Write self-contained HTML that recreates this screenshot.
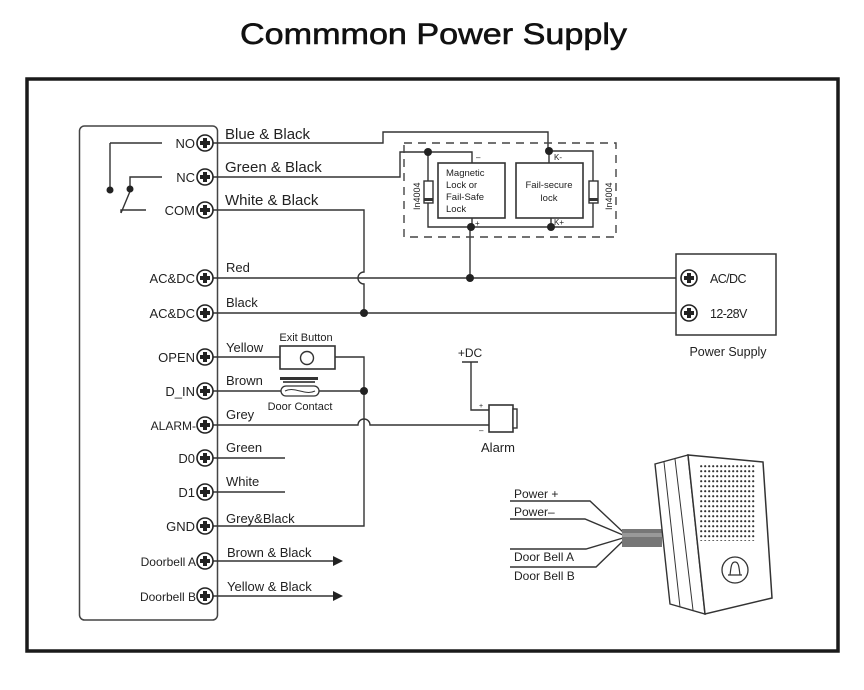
<!DOCTYPE html>
<html><head><meta charset="utf-8"><style>
html,body{margin:0;padding:0;background:#fff;}
svg{display:block;}
text{font-family:"Liberation Sans",Arial,sans-serif;fill:#222;}
</style></head><body>
<svg width="864" height="690" viewBox="0 0 864 690" xmlns="http://www.w3.org/2000/svg">
<defs>
<g id="term"><circle r="8" fill="#fff" stroke="#222" stroke-width="1.6"/><path d="M-5,0H5M0,-5V5" stroke="#222" stroke-width="4"/></g>
</defs>
<text x="240" y="44" font-size="30" textLength="387" lengthAdjust="spacingAndGlyphs" style="fill:#111;stroke:#111;stroke-width:0.6">Commmon Power Supply</text>
<rect x="27" y="79" width="811" height="572" fill="none" stroke="#1a1a1a" stroke-width="3.5"/>
<rect x="79.5" y="126" width="138" height="494" rx="5" fill="none" stroke="#444" stroke-width="1.5"/>

<g stroke="#333" stroke-width="1.4" fill="none">
<path d="M110,143H162M110,143V190M130,189V177H162M121,213L131,189M121,213V210H146"/>
<path d="M213,143H383V132H548V151"/>
<path d="M213,177H400V152H472V163"/>
<path d="M213,210H364V272A6,6 0 0 0 364,284V313"/>
<path d="M213,278H681M213,313H681"/>
<path d="M470,278V227"/>
<path d="M428,152V227H593V151H549V163"/>
<path d="M472,218V227M551,218V227"/>
<path d="M213,357H280M334,357H364V526H213"/>
<path d="M213,391H364"/>
<path d="M213,425H358A6,6 0 0 1 370,425H489"/>
<path d="M213,458H285M213,492H285"/>
<path d="M213,561H335M213,596H335"/>
<path d="M462,362H478M471,362V410H489"/>
<path d="M510,501H590L623,532M510,519H585L623,535M510,549H586L623,538M510,567H596L623,541"/>
</g>
<rect x="404" y="143" width="212" height="94" fill="none" stroke="#444" stroke-width="1.4" stroke-dasharray="8,6"/>
<rect x="438" y="163" width="67" height="55" fill="#fff" stroke="#333" stroke-width="1.6"/>
<rect x="516" y="163" width="67" height="55" fill="#fff" stroke="#333" stroke-width="1.6"/>
<text x="446" y="176" font-size="9.5">Magnetic</text>
<text x="446" y="188" font-size="9.5">Lock or</text>
<text x="446" y="200" font-size="9.5">Fail-Safe</text>
<text x="446" y="212" font-size="9.5">Lock</text>
<text x="549" y="188" font-size="9.5" text-anchor="middle">Fail-secure</text>
<text x="549" y="201" font-size="9.5" text-anchor="middle">lock</text>
<text x="476" y="160" font-size="8">–</text>
<text x="475" y="226" font-size="8">+</text>
<text x="554" y="160" font-size="8">K-</text>
<text x="554" y="225" font-size="8">K+</text>
<rect x="424" y="181" width="9" height="22" fill="#fff" stroke="#333" stroke-width="1.4"/>
<rect x="424" y="198" width="9" height="3" fill="#333"/>
<rect x="589" y="181" width="9" height="22" fill="#fff" stroke="#333" stroke-width="1.4"/>
<rect x="589" y="198" width="9" height="3" fill="#333"/>
<text transform="translate(420,210) rotate(-90)" font-size="9">In4004</text>
<text transform="translate(612,210) rotate(-90)" font-size="9">In4004</text>
<g fill="#222">
<circle cx="110" cy="190" r="3.5"/><circle cx="130" cy="189" r="3.5"/>
<circle cx="428" cy="152" r="4"/><circle cx="549" cy="151" r="4"/>
<circle cx="471" cy="227" r="4"/><circle cx="551" cy="227" r="4"/>
<circle cx="470" cy="278" r="4"/><circle cx="364" cy="313" r="4"/>
<circle cx="364" cy="391" r="4"/>
<path d="M333,556L343,561L333,566Z"/><path d="M333,591L343,596L333,601Z"/>
</g>
<use href="#term" x="205" y="143"/><use href="#term" x="205" y="177"/><use href="#term" x="205" y="210"/>
<use href="#term" x="205" y="278"/><use href="#term" x="205" y="313"/><use href="#term" x="205" y="357"/>
<use href="#term" x="205" y="391"/><use href="#term" x="205" y="425"/><use href="#term" x="205" y="458"/>
<use href="#term" x="205" y="492"/><use href="#term" x="205" y="526"/><use href="#term" x="205" y="561"/>
<use href="#term" x="205" y="596"/>
<g font-size="13" text-anchor="end">
<text x="195" y="148">NO</text><text x="195" y="182">NC</text><text x="195" y="215">COM</text>
<text x="195" y="283">AC&amp;DC</text><text x="195" y="318">AC&amp;DC</text><text x="195" y="362">OPEN</text>
<text x="195" y="396">D_IN</text><text x="196" y="430" font-size="12">ALARM-</text><text x="195" y="463">D0</text>
<text x="195" y="497">D1</text><text x="195" y="531">GND</text>
<text x="196" y="566" font-size="12">Doorbell A</text><text x="196" y="601" font-size="12">Doorbell B</text>
</g>
<g font-size="15">
<text x="225" y="139">Blue &amp; Black</text><text x="225" y="172">Green &amp; Black</text><text x="225" y="205">White &amp; Black</text>
</g>
<g font-size="13">
<text x="226" y="272">Red</text><text x="226" y="307">Black</text><text x="226" y="352">Yellow</text>
<text x="226" y="385">Brown</text><text x="226" y="419">Grey</text><text x="226" y="452">Green</text>
<text x="226" y="486">White</text><text x="226" y="523">Grey&amp;Black</text>
<text x="227" y="557">Brown &amp; Black</text><text x="227" y="591">Yellow &amp; Black</text>
</g>
<rect x="280" y="346" width="55" height="23" fill="#fff" stroke="#333" stroke-width="1.6"/>
<circle cx="307" cy="358" r="6.5" fill="none" stroke="#333" stroke-width="1.4"/>
<text x="306" y="341" font-size="11" text-anchor="middle">Exit Button</text>
<rect x="280" y="377" width="38" height="3" fill="#333"/>
<rect x="283" y="381" width="32" height="2" fill="#555"/>
<rect x="281" y="386" width="38" height="10" rx="5" fill="#fff" stroke="#333" stroke-width="1.3"/>
<path d="M285,391C295,386 305,396 315,391" stroke="#333" fill="none" stroke-width="1"/>
<text x="300" y="410" font-size="11" text-anchor="middle">Door Contact</text>
<text x="470" y="357" font-size="12" text-anchor="middle">+DC</text>
<rect x="489" y="405" width="24" height="27" fill="#fff" stroke="#333" stroke-width="1.6"/>
<rect x="513" y="409" width="4" height="19" fill="#fff" stroke="#333" stroke-width="1.4"/>
<text x="479" y="408" font-size="7">+</text><text x="479" y="433" font-size="8">–</text>
<text x="498" y="452" font-size="13" text-anchor="middle">Alarm</text>
<rect x="676" y="254" width="100" height="81" fill="#fff" stroke="#333" stroke-width="1.5"/>
<use href="#term" x="689" y="278"/><use href="#term" x="689" y="313"/>
<text x="710" y="283" font-size="12.5" letter-spacing="-0.6">AC/DC</text>
<text x="710" y="318" font-size="12.5" letter-spacing="-0.6">12-28V</text>
<text x="728" y="356" font-size="12.5" text-anchor="middle">Power Supply</text>
<g font-size="12">
<text x="514" y="498">Power +</text><text x="514" y="516">Power–</text>
<text x="514" y="561">Door Bell  A</text><text x="514" y="580">Door Bell  B</text>
</g>
<rect x="622" y="529" width="40" height="18" fill="#777"/>
<rect x="622" y="533" width="40" height="4" fill="#999"/>
<path d="M655,464L688,455L705,614L670,604Z" fill="#fff" stroke="#333" stroke-width="1.4"/>
<path d="M664,462L680,607M675,459L693,610" stroke="#333" stroke-width="1"/>
<path d="M688,455L763,462L772,598L705,614Z" fill="#fff" stroke="#333" stroke-width="1.5"/>
<pattern id="dp" x="700" y="465" width="4" height="5" patternUnits="userSpaceOnUse"><circle cx="1.2" cy="1.2" r="1.1" fill="#333"/></pattern>
<rect x="700" y="465" width="55" height="76" fill="url(#dp)"/>
<circle cx="735" cy="570" r="13" fill="#fff" stroke="#333" stroke-width="1.3"/>
<path d="M730,575C731,568 731,562 735,562C739,562 739,568 740,575ZM728,575H742" fill="none" stroke="#333" stroke-width="1.2"/>
</svg>
</body></html>
